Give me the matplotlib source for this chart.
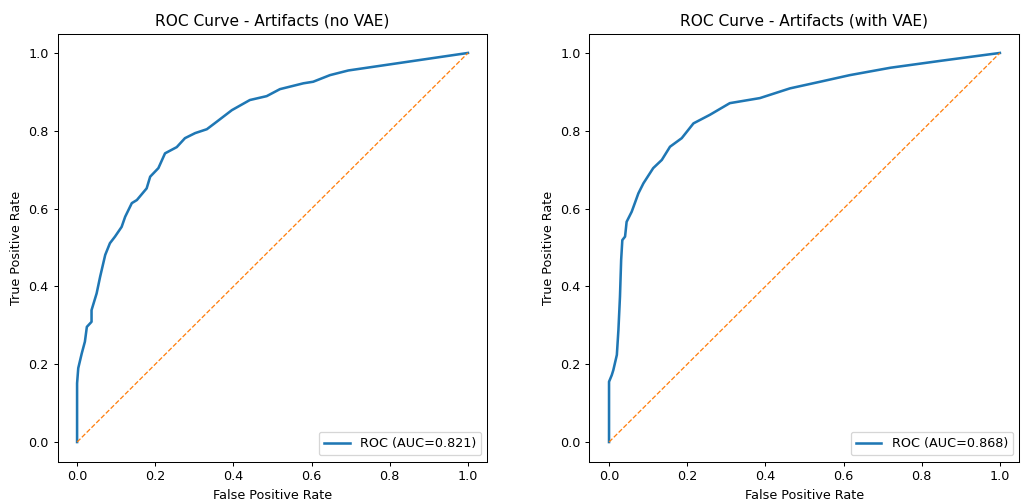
import matplotlib
matplotlib.use("Agg")
import matplotlib.pyplot as plt

# ROC points (FPR, TPR)
fpr_no_vae = [0.0, 0.0, 0.003, 0.012, 0.02, 0.025, 0.037, 0.037, 0.05, 0.059,
              0.072, 0.084, 0.097, 0.114, 0.123, 0.14, 0.153, 0.178, 0.187,
              0.208, 0.225, 0.255, 0.276, 0.302, 0.332, 0.357, 0.396, 0.442,
              0.485, 0.519, 0.579, 0.604, 0.647, 0.694, 1.0]
tpr_no_vae = [0.0, 0.151, 0.19, 0.228, 0.258, 0.296, 0.309, 0.339, 0.382, 0.425,
              0.481, 0.511, 0.528, 0.553, 0.579, 0.614, 0.622, 0.652, 0.682,
              0.704, 0.742, 0.758, 0.781, 0.794, 0.804, 0.823, 0.853, 0.879,
              0.889, 0.907, 0.922, 0.926, 0.943, 0.955, 1.0]

fpr_vae = [0.0, 0.0, 0.007, 0.011, 0.02, 0.024, 0.028, 0.031, 0.034, 0.041,
           0.045, 0.058, 0.066, 0.075, 0.088, 0.113, 0.135, 0.156, 0.186,
           0.216, 0.258, 0.309, 0.386, 0.463, 0.54, 0.616, 0.72, 0.85, 1.0]
tpr_vae = [0.0, 0.155, 0.172, 0.185, 0.224, 0.288, 0.374, 0.468, 0.519, 0.528,
           0.566, 0.592, 0.614, 0.639, 0.665, 0.704, 0.725, 0.759, 0.781,
           0.819, 0.841, 0.871, 0.884, 0.909, 0.926, 0.943, 0.962, 0.98, 1.0]

auc_values = [0.821, 0.868]
titles = ["ROC Curve - Artifacts (no VAE)", "ROC Curve - Artifacts (with VAE)"]

# reference looks like a slightly downscaled render, so use a lower dpi
dpi = 92
fig = plt.figure(figsize=(1022 / dpi, 500 / dpi), dpi=dpi)
ax1 = fig.add_axes([0.0563, 0.077, 0.4207, 0.856])
ax2 = fig.add_axes([0.5768, 0.077, 0.4207, 0.856])

curves = [(fpr_no_vae, tpr_no_vae), (fpr_vae, tpr_vae)]
for ax, (fpr, tpr), auc, title in zip([ax1, ax2], curves, auc_values, titles):
    ax.plot(fpr, tpr, lw=2, label=f"ROC (AUC={auc:.3f})")
    ax.plot([0, 1], [0, 1], linestyle="--", lw=1)
    ax.set_xlabel("False Positive Rate")
    ax.set_ylabel("True Positive Rate")
    ax.set_title(title)
    ax.legend(loc="lower right")

fig.savefig("out.png", dpi=dpi)
